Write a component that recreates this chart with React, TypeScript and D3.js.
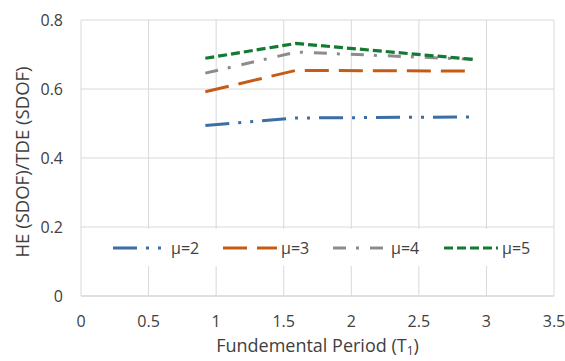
import React from "react";
import * as d3 from "d3";

const periods = [0.92, 1.59, 2.9];
const mu2 = [0.494, 0.516, 0.519];
const mu3 = [0.592, 0.654, 0.652];
const mu4 = [0.646, 0.707, 0.686];
const mu5 = [0.689, 0.732, 0.686];
const seriesNames = ["μ=2", "μ=3", "μ=4", "μ=5"];
const xTicks = [0, 0.5, 1, 1.5, 2, 2.5, 3, 3.5];
const yTicks = [0, 0.2, 0.4, 0.6, 0.8];

const W = 565, H = 361;
const left = 81, right = 554, top = 20, bottom = 296;

const styles = [
  { color: "#3A6EA5", dash: "24 9 3 9 3 9", width: 3 },
  { color: "#C65B16", dash: "24 10", width: 3 },
  { color: "#8C8C8C", dash: "13 10 3 11", width: 3 },
  { color: "#137A31", dash: "9 4", width: 3.2 },
];

export default function App() {
  const x = d3.scaleLinear().domain([0, 3.5]).range([left, right]);
  const y = d3.scaleLinear().domain([0, 0.8]).range([bottom, top]);
  const data = [mu2, mu3, mu4, mu5];
  const line = d3
    .line<number>()
    .x((_, i) => x(periods[i]))
    .y((d) => y(d));
  const font = "'Open Sans', sans-serif";
  const txt = "#404040";
  const grid = "#D9D9D9";
  const legendX = [113, 223, 333, 444];
  const legendY = 248;
  return (
    <svg
      width={W}
      height={H}
      style={{ position: "absolute", left: 0, top: 0, background: "#fff" }}
      fontFamily={font}
    >
      <rect x={0} y={0} width={W} height={H} fill="#fff" />
      {yTicks.map((t) => (
        <line key={"gy" + t} x1={left} x2={right} y1={y(t)} y2={y(t)} stroke={t === 0 ? "#BFBFBF" : grid} strokeWidth={1} />
      ))}
      {xTicks.map((t) => (
        <line key={"gx" + t} x1={x(t)} x2={x(t)} y1={top} y2={bottom} stroke={grid} strokeWidth={1} />
      ))}
      {yTicks.map((t) => (
        <text key={"ty" + t} x={63} y={y(t)} dy="0.36em" textAnchor="end" fontSize={16} fill={txt}>
          {t === 0 ? "0" : t.toFixed(1)}
        </text>
      ))}
      {xTicks.map((t) => (
        <text key={"tx" + t} x={x(t)} y={327} textAnchor="middle" fontSize={16} fill={txt}>
          {String(t)}
        </text>
      ))}
      {data.map((s, i) => (
        <path
          key={"s" + i}
          d={line(s) || ""}
          fill="none"
          stroke={styles[i].color}
          strokeWidth={styles[i].width}
          strokeDasharray={styles[i].dash}
        />
      ))}
      <rect x={96} y={229} width={446} height={37} fill="#fff" />
      {seriesNames.map((n, i) => (
        <g key={"lg" + i}>
          <line
            x1={legendX[i]}
            x2={legendX[i] + 54}
            y1={legendY}
            y2={legendY}
            stroke={styles[i].color}
            strokeWidth={styles[i].width}
            strokeDasharray={styles[i].dash}
          />
          <text x={legendX[i] + 58} y={legendY} dy="0.36em" fontSize={16} fill={txt}>
            {n}
          </text>
        </g>
      ))}
      <text x={(left + right) / 2} y={352} textAnchor="middle" fontSize={18} fill={txt}>
        Fundemental Period (T
        <tspan fontSize={12} dy={3}>1</tspan>
        <tspan dy={-3}>)</tspan>
      </text>
      <text transform={`translate(29,162) rotate(-90)`} textAnchor="middle" fontSize={18.5} fill={txt}>
        HE (SDOF)/TDE (SDOF)
      </text>
    </svg>
  );
}
